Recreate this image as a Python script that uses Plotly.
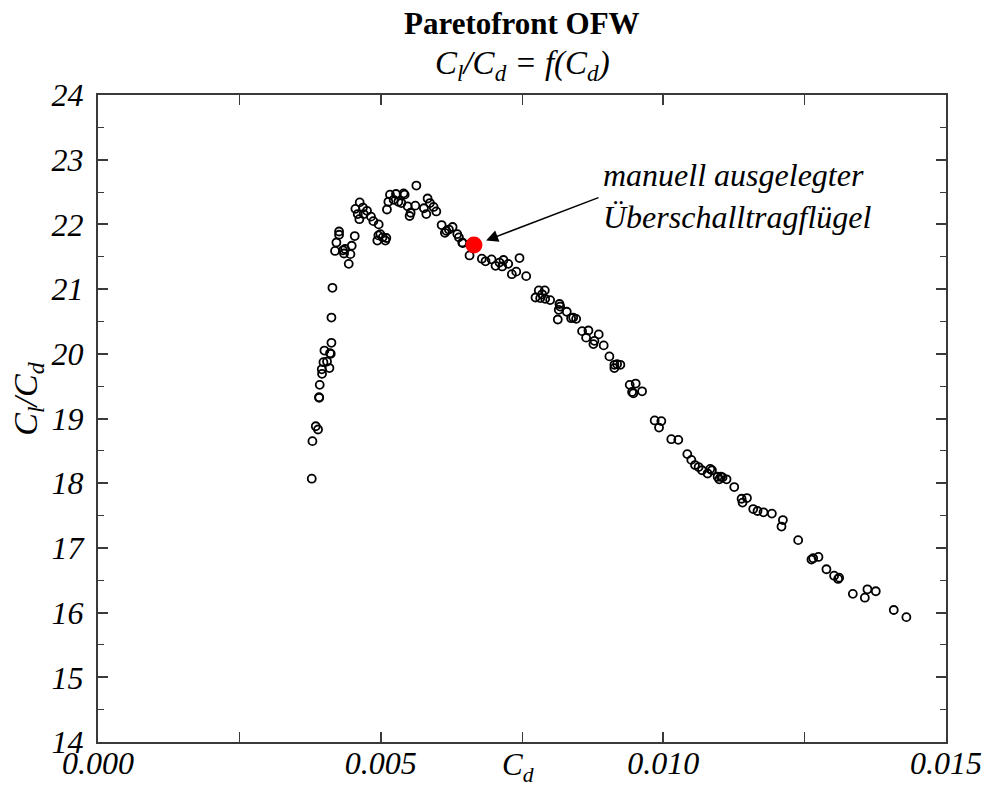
import plotly.graph_objects as go

# Pareto front samples: drag coefficient C_d and lift-to-drag ratio C_l/C_d
cd_values = [
    0.003781, 0.003793, 0.003852, 0.003892, 0.003910, 0.003913, 0.003922, 0.003963,
    0.003958, 0.004094, 0.003988, 0.004051, 0.004005, 0.004104, 0.004117, 0.004129,
    0.004129, 0.004147, 0.004435, 0.004465, 0.004352, 0.004193, 0.004334, 0.004369,
    0.004488, 0.004217, 0.004264, 0.004264, 0.004541, 0.004629, 0.004553, 0.004687,
    0.004758, 0.004594, 0.004700, 0.004623, 0.004829, 0.004871, 0.004965, 0.004959,
    0.004994, 0.004941, 0.005035, 0.005100, 0.005083, 0.005111, 0.005136, 0.005165,
    0.005230, 0.005271, 0.005313, 0.005366, 0.005406, 0.005424, 0.005477, 0.005530,
    0.005512, 0.005613, 0.005631, 0.005765, 0.005807, 0.005830, 0.005871, 0.005936,
    0.005984, 0.006078, 0.006136, 0.006161, 0.006207, 0.006272, 0.006355, 0.006384,
    0.006443, 0.006454, 0.006572, 0.006790, 0.006855, 0.006961, 0.007032, 0.007102,
    0.007150, 0.007173, 0.007256, 0.007456, 0.007320, 0.007398, 0.007574, 0.007739,
    0.007797, 0.007903, 0.007822, 0.007910, 0.007857, 0.007998, 0.008163, 0.008175,
    0.008150, 0.008292, 0.008133, 0.008369, 0.008405, 0.008458, 0.008563, 0.008675,
    0.008634, 0.008857, 0.008781, 0.008763, 0.008945, 0.009046, 0.009134, 0.009182,
    0.009240, 0.009134, 0.009405, 0.009511, 0.009470, 0.009447, 0.009624, 0.009847,
    0.009965, 0.009924, 0.010141, 0.010265, 0.010424, 0.010495, 0.010560, 0.010624,
    0.010684, 0.010783, 0.010830, 0.010860, 0.010960, 0.011019, 0.011048, 0.010989,
    0.011118, 0.011254, 0.011384, 0.011479, 0.011401, 0.011590, 0.011666, 0.011772,
    0.011920, 0.012115, 0.012090, 0.012385, 0.012620, 0.012650, 0.012744, 0.012885,
    0.013021, 0.013092, 0.013110, 0.013352, 0.013564, 0.013610, 0.013758, 0.014076,
    0.014299,
]
clcd_values = [
    18.07, 18.65, 18.88, 18.83, 19.33, 19.32, 19.52, 19.69,
    19.76, 19.78, 19.87, 19.88, 20.05, 20.01, 20.00, 20.17,
    20.56, 21.02, 21.39, 21.54, 21.55, 21.59, 21.60, 21.62,
    21.67, 21.72, 21.84, 21.89, 21.82, 22.34, 22.24, 22.26,
    22.21, 22.16, 22.16, 22.08, 22.12, 22.05, 22.00, 21.83,
    21.85, 21.75, 21.80, 21.79, 21.75, 22.23, 22.35, 22.46,
    22.38, 22.47, 22.35, 22.33, 22.48, 22.46, 22.28, 22.18,
    22.13, 22.29, 22.60, 22.25, 22.16, 22.40, 22.33, 22.27,
    22.20, 21.99, 21.87, 21.90, 21.92, 21.96, 21.85, 21.80,
    21.72, 21.71, 21.52, 21.47, 21.43, 21.46, 21.36, 21.41,
    21.35, 21.45, 21.39, 21.48, 21.23, 21.27, 21.20, 20.87,
    20.98, 20.98, 20.86, 20.85, 20.92, 20.83, 20.77, 20.73,
    20.68, 20.65, 20.53, 20.55, 20.56, 20.54, 20.35, 20.36,
    20.25, 20.30, 20.20, 20.15, 20.13, 19.96, 19.83, 19.84,
    19.83, 19.78, 19.52, 19.54, 19.39, 19.41, 19.42, 18.97,
    18.96, 18.86, 18.68, 18.67, 18.45, 18.36, 18.28, 18.25,
    18.20, 18.15, 18.22, 18.20, 18.10, 18.10, 18.09, 18.06,
    18.06, 17.94, 17.76, 17.77, 17.70, 17.60, 17.57, 17.55,
    17.53, 17.43, 17.33, 17.12, 16.82, 16.84, 16.86, 16.67,
    16.57, 16.52, 16.54, 16.29, 16.23, 16.36, 16.33, 16.04,
    15.93,
]

# Manually designed supersonic wing for comparison
manual_cd = [0.00665]
manual_clcd = [21.68]

x_tick_values = [0.000, 0.005, 0.010, 0.015]
x_tick_labels = ["0.000", "0.005", "0.010", "0.015"]
y_tick_values = list(range(14, 25))
y_tick_labels = [str(v) for v in y_tick_values]

SERIF = "Liberation Serif"
AXIS_COLOR = "#3a3a3a"

fig = go.Figure()
fig.add_trace(go.Scatter(
    x=cd_values, y=clcd_values, mode="markers",
    marker=dict(symbol="circle-open", size=8, color="black",
                line=dict(color="black", width=1.8)),
    showlegend=False, hoverinfo="x+y",
))
fig.add_trace(go.Scatter(
    x=manual_cd, y=manual_clcd, mode="markers",
    marker=dict(symbol="circle", size=17, color="#ff0000",
                line=dict(width=0)),
    showlegend=False, hoverinfo="x+y",
))

axis_common = dict(
    showline=True, linecolor=AXIS_COLOR, linewidth=2, mirror="allticks",
    ticks="inside", ticklen=10, tickwidth=1.5, tickcolor=AXIS_COLOR,
    showgrid=False, zeroline=False, automargin=False,
    tickfont=dict(family=SERIF, size=32, color="black"),
)

fig.update_xaxes(
    range=[0, 0.015], tickmode="array", tickvals=x_tick_values,
    ticktext=[f"<i>{t}</i>" for t in x_tick_labels],
    minor=dict(ticks="inside", ticklen=10, tickwidth=1.2, tickcolor=AXIS_COLOR,
               dtick=0.0025, showgrid=False),
    ticklabelstandoff=-8,
    **axis_common,
)
fig.update_yaxes(
    range=[14, 24], tickmode="array", tickvals=y_tick_values,
    ticktext=[f"<i>{t}</i>" for t in y_tick_labels],
    minor=dict(ticks="inside", ticklen=6, tickwidth=1.2, tickcolor=AXIS_COLOR,
               dtick=0.5, showgrid=False),
    ticklabelstandoff=6,
    **axis_common,
)

annotations = [
    dict(text="<b>Paretofront OFW</b>", xref="paper", yref="paper",
         x=0.5, y=1.11, xanchor="center", yanchor="middle", showarrow=False,
         font=dict(family=SERIF, size=31, color="black")),
    dict(text="<i>C<sub>l</sub>/C<sub>d</sub> = f(C<sub>d</sub>)</i>",
         xref="paper", yref="paper", x=0.5, y=1.045,
         xanchor="center", yanchor="middle", showarrow=False,
         font=dict(family=SERIF, size=33, color="black")),
    dict(text="<i>C<sub>d</sub></i>", xref="paper", yref="paper",
         x=0.495, y=-0.038, xanchor="center", yanchor="middle", showarrow=False,
         font=dict(family=SERIF, size=31, color="black")),
    dict(text="<i>C<sub>l</sub>/C<sub>d</sub></i>", xref="paper", yref="paper",
         x=-0.083, y=0.53, xanchor="center", yanchor="middle", showarrow=False,
         textangle=-90, font=dict(family=SERIF, size=34, color="black")),
    # arrow pointing at the manually designed wing
    dict(text="", x=manual_cd[0], y=manual_clcd[0], xref="x", yref="y",
         showarrow=True, ax=126, ay=-48, arrowhead=2, arrowsize=1.6,
         arrowwidth=1.5, arrowcolor="black", standoff=13),
    dict(text="<i>manuell ausgelegter<br>Überschalltragflügel</i>",
         x=manual_cd[0], y=manual_clcd[0], xref="x", yref="y",
         showarrow=False, xanchor="left", yanchor="middle", align="left",
         xshift=127, yshift=49,
         font=dict(family=SERIF, size=32, color="black")),
]

fig.update_layout(
    width=987, height=790,
    margin=dict(l=98, r=41, t=95, b=48),
    paper_bgcolor="white", plot_bgcolor="white",
    annotations=annotations,
)

fig.write_html("out.html")
